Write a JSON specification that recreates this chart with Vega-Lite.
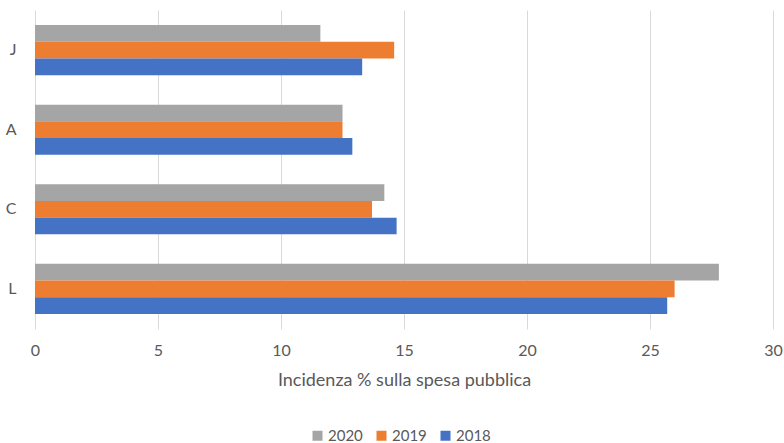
{
  "$schema": "https://vega.github.io/schema/vega-lite/v6.json",
  "width": 738,
  "height": 319,
  "autosize": {"type": "none"},
  "padding": {"left": 35, "top": 10, "right": 11, "bottom": 114},
  "background": "white",
  "config": {
    "font": "Lato",
    "view": {"stroke": null},
    "axis": {"labelColor": "#595959", "titleColor": "#595959", "labelFont": "Lato", "titleFont": "Lato"}
  },
  "data": {
    "values": [
      {"cat": "J", "year": "2020", "value": 11.6},
      {"cat": "J", "year": "2019", "value": 14.6},
      {"cat": "J", "year": "2018", "value": 13.3},
      {"cat": "A", "year": "2020", "value": 12.5},
      {"cat": "A", "year": "2019", "value": 12.5},
      {"cat": "A", "year": "2018", "value": 12.9},
      {"cat": "C", "year": "2020", "value": 14.2},
      {"cat": "C", "year": "2019", "value": 13.7},
      {"cat": "C", "year": "2018", "value": 14.7},
      {"cat": "L", "year": "2020", "value": 27.8},
      {"cat": "L", "year": "2019", "value": 26.0},
      {"cat": "L", "year": "2018", "value": 25.7}
    ]
  },
  "mark": {"type": "bar"},
  "encoding": {
    "y": {
      "field": "cat", "type": "nominal", "sort": ["J", "A", "C", "L"],
      "scale": {"paddingInner": 0.37, "paddingOuter": 0.19},
      "axis": {"title": null, "ticks": false, "domain": false, "labelPadding": 19, "labelFontSize": 16, "grid": false}
    },
    "yOffset": {
      "field": "year", "type": "nominal", "sort": ["2020", "2019", "2018"],
      "scale": {"paddingInner": 0, "paddingOuter": 0}
    },
    "x": {
      "field": "value", "type": "quantitative",
      "scale": {"domain": [0, 30], "nice": false},
      "axis": {
        "values": [0, 5, 10, 15, 20, 25, 30],
        "title": "Incidenza % sulla spesa pubblica",
        "titleFontSize": 18, "titleFontWeight": "normal", "titlePadding": 13,
        "labelFontSize": 16, "labelPadding": 13, "labelFlush": false,
        "ticks": false, "domain": false,
        "grid": true, "gridColor": "#d9d9d9", "gridWidth": 1
      }
    },
    "color": {
      "field": "year", "type": "nominal",
      "scale": {"domain": ["2020", "2019", "2018"], "range": ["#A5A5A5", "#ED7D31", "#4472C4"]},
      "legend": {
        "title": null, "orient": "none", "direction": "horizontal",
        "legendX": 275, "legendY": 418,
        "symbolType": "square", "symbolSize": 100, "symbolStrokeWidth": 0,
        "labelFontSize": 15, "labelColor": "#595959", "labelFont": "Lato",
        "columnPadding": 11, "labelOffset": 3
      }
    }
  }
}
